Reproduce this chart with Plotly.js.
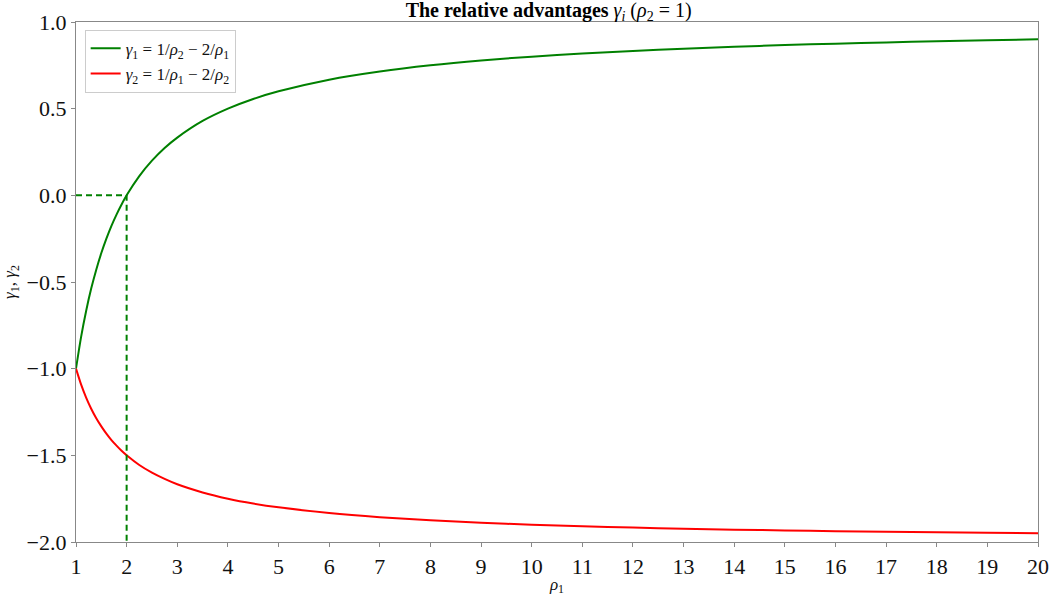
<!DOCTYPE html>
<html>
<head>
<meta charset="utf-8">
<script src="https://cdn.plot.ly/plotly-3.0.1.min.js"></script>
<style>html,body{margin:0;padding:0;background:#fff;}#chart{width:1051px;height:597px;}</style>
</head>
<body>
<div id="chart"></div>
<script>
// Sample points of rho_1 (with rho_2 = 1)
const rho1 = [1, 1.1, 1.2, 1.3, 1.4, 1.5, 1.6, 1.7, 1.8, 1.9, 2, 2.25, 2.5, 2.75, 3, 3.5, 4, 4.5, 5,
  6, 7, 8, 9, 10, 11, 12, 13, 14, 15, 16, 17, 18, 19, 20];
// gamma_1 values
const gamma1 = [-1, -0.818, -0.667, -0.538, -0.429, -0.333, -0.25, -0.176, -0.111, -0.053, 0, 0.111, 0.2, 0.273, 0.333, 0.429, 0.5, 0.556, 0.6,
  0.667, 0.714, 0.75, 0.778, 0.8, 0.818, 0.833, 0.846, 0.857, 0.867, 0.875, 0.882, 0.889, 0.895, 0.9];
// gamma_2 values
const gamma2 = [-1, -1.091, -1.167, -1.231, -1.286, -1.333, -1.375, -1.412, -1.444, -1.474, -1.5, -1.556, -1.6, -1.636, -1.667, -1.714, -1.75, -1.778, -1.8,
  -1.833, -1.857, -1.875, -1.889, -1.9, -1.909, -1.917, -1.923, -1.929, -1.933, -1.938, -1.941, -1.944, -1.947, -1.95];
// Break-even guide: gamma_1 = 0 at rho_1 = 2
const guideX = [1, 2, 2];
const guideY = [0, 0, -2];

const xTicks = [1,2,3,4,5,6,7,8,9,10,11,12,13,14,15,16,17,18,19,20];
const yTicks = [1.0, 0.5, 0.0, -0.5, -1.0, -1.5, -2.0];

const serif = "Liberation Serif, DejaVu Serif, serif";

const traces = [
  {
    x: rho1, y: gamma1, mode: 'lines', line: {color: '#008000', width: 2, shape: 'spline', smoothing: 0.8},
    name: '<i>γ</i><sub>1</sub> = 1/<i>ρ</i><sub>2</sub> − 2/<i>ρ</i><sub>1</sub>'
  },
  {
    x: rho1, y: gamma2, mode: 'lines', line: {color: '#ff0000', width: 2, shape: 'spline', smoothing: 0.8},
    name: '<i>γ</i><sub>2</sub> = 1/<i>ρ</i><sub>1</sub> − 2/<i>ρ</i><sub>2</sub>'
  },
  {
    x: guideX, y: guideY, mode: 'lines', line: {color: '#008000', width: 2, dash: '6px,4px'},
    showlegend: false, hoverinfo: 'skip'
  }
];

const axisCommon = {
  showgrid: false, zeroline: false,
  showline: true, linecolor: '#888888', linewidth: 1.2, mirror: true,
  ticks: 'outside', ticklen: 4, tickcolor: '#888888', tickwidth: 1,
  tickfont: {family: serif, size: 22, color: '#111111'}
};

const layout = {
  width: 1051, height: 597,
  margin: {l: 76, r: 13, t: 22, b: 55},
  paper_bgcolor: '#ffffff', plot_bgcolor: '#ffffff',
  showlegend: true,
  title: {
    text: '<b>The relative advantages </b><i>γ<sub>i</sub></i> (<i>ρ</i><sub>2</sub> = 1)',
    font: {family: serif, size: 20, color: '#000000'},
    x: 0.522, xanchor: 'center', y: 0.983, yanchor: 'middle'
  },
  xaxis: Object.assign({}, axisCommon, {
    range: [1, 20], tickvals: xTicks, ticktext: xTicks.map(String),
    title: {text: '<i>ρ</i><sub>1</sub>', font: {family: serif, size: 17, color: '#111111'}, standoff: 0}
  }),
  yaxis: Object.assign({}, axisCommon, {
    range: [-2, 1], tickvals: yTicks, tickformat: '.1f',
    title: {text: '<i>γ</i><sub>1</sub>, <i>γ</i><sub>2</sub>', font: {family: serif, size: 17, color: '#111111'}, standoff: 8}
  }),
  legend: {
    x: 0.009, y: 0.985, xanchor: 'left', yanchor: 'top',
    bgcolor: 'rgba(255,255,255,0.9)', bordercolor: '#cccccc', borderwidth: 1,
    font: {family: serif, size: 17, color: '#111111'},
    tracegroupgap: 0
  }
};

Plotly.newPlot('chart', traces, layout, {displayModeBar: false, staticPlot: true});
</script>
</body>
</html>
